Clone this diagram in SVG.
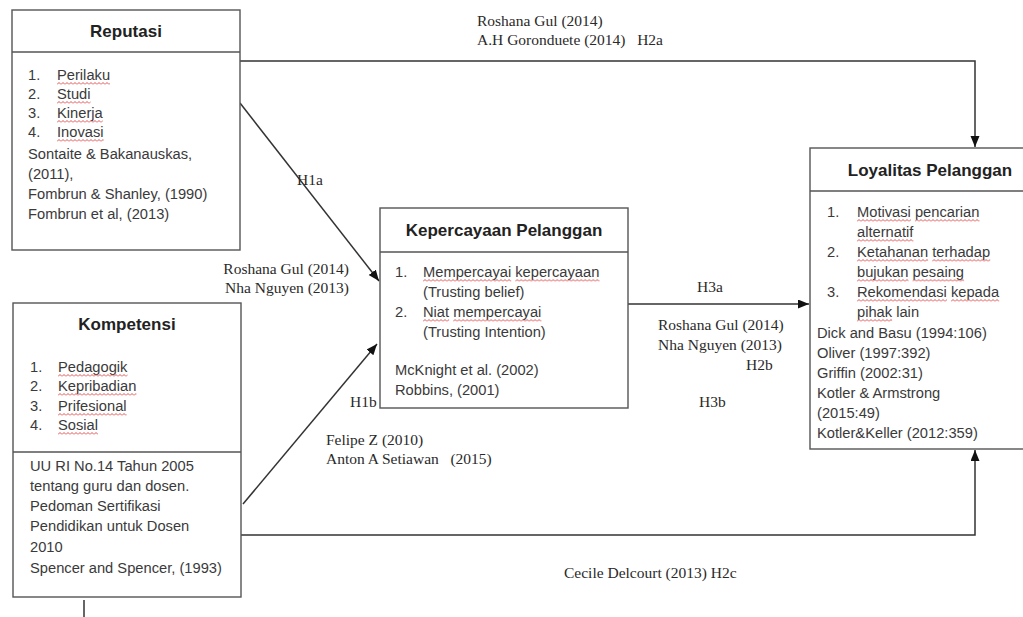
<svg xmlns="http://www.w3.org/2000/svg" width="1023" height="617" viewBox="0 0 1023 617">
  <defs>
    <style>
      .box { fill: #ffffff; stroke: #555555; stroke-width: 1.4; }
      .div { stroke: #555555; stroke-width: 1.4; }
      .title { font-family: "Liberation Sans", Arial, sans-serif; font-size: 17px; font-weight: bold; fill: #222222; text-anchor: middle; }
      .t { font-family: "Liberation Sans", Arial, sans-serif; font-size: 14.7px; fill: #3a3a3a; }
      .lbl { font-family: "Liberation Serif", "Times New Roman", serif; font-size: 15.5px; fill: #2a2a2a; }
      .conn { fill: none; stroke: #333333; stroke-width: 1.5; }
      .sq { fill: url(#squiggle); }
    </style>
    <marker id="arrow" markerUnits="userSpaceOnUse" markerWidth="12" markerHeight="10" refX="11" refY="4.5" orient="auto">
      <path d="M0,0 L11,4.5 L0,9 z" fill="#111111"/>
    </marker>
    <pattern id="squiggle" patternUnits="userSpaceOnUse" width="4" height="3">
      <path d="M0,2.5 L2,0.5 L4,2.5" fill="none" stroke="#e05050" stroke-width="1"/>
    </pattern>
  </defs>

  <rect width="1023" height="617" fill="#ffffff"/>

  <!-- connectors -->
  <g id="connectors">
    <polyline class="conn" points="240,61 975,61 975,147" marker-end="url(#arrow)"/>
    <line class="conn" x1="240" y1="103" x2="379" y2="281" marker-end="url(#arrow)"/>
    <line class="conn" x1="243" y1="504" x2="377" y2="344" marker-end="url(#arrow)"/>
    <line class="conn" x1="628" y1="304" x2="809" y2="304" marker-end="url(#arrow)"/>
    <polyline class="conn" points="232,535 975,535 975,450" marker-end="url(#arrow)"/>
    <line class="conn" x1="84" y1="600" x2="84" y2="617"/>
  </g>

  <!-- Reputasi -->
  <g id="reputasi">
    <rect class="box" x="12" y="10" width="228" height="240"/>
    <line class="div" x1="12" y1="52" x2="240" y2="52"/>
    <text class="title" x="126" y="37">Reputasi</text>
    <text class="t" x="28" y="80">1.</text><text class="t" x="57" y="80">Perilaku</text>
    <text class="t" x="28" y="99">2.</text><text class="t" x="57" y="99">Studi</text>
    <text class="t" x="28" y="118">3.</text><text class="t" x="57" y="118">Kinerja</text>
    <text class="t" x="28" y="137">4.</text><text class="t" x="57" y="137">Inovasi</text>
    <text class="t" x="28" y="159">Sontaite &amp; Bakanauskas,</text>
    <text class="t" x="28" y="179">(2011),</text>
    <text class="t" x="28" y="199">Fombrun &amp; Shanley, (1990)</text>
    <text class="t" x="28" y="219">Fombrun et al, (2013)</text>
    <rect class="sq" transform="translate(57,82)" width="53" height="3"/>
    <rect class="sq" transform="translate(57,101)" width="33.5" height="3"/>
    <rect class="sq" transform="translate(57,120)" width="45.7" height="3"/>
    <rect class="sq" transform="translate(57,139)" width="46.6" height="3"/>
  </g>

  <!-- Kompetensi -->
  <g id="kompetensi">
    <rect class="box" x="13" y="303" width="228" height="294"/>
    <line class="div" x1="13" y1="452" x2="241" y2="452"/>
    <text class="title" x="127" y="330">Kompetensi</text>
    <text class="t" x="30" y="372">1.</text><text class="t" x="58" y="372">Pedagogik</text>
    <text class="t" x="30" y="391">2.</text><text class="t" x="58" y="391">Kepribadian</text>
    <text class="t" x="30" y="411">3.</text><text class="t" x="58" y="411">Prifesional</text>
    <text class="t" x="30" y="430">4.</text><text class="t" x="58" y="430">Sosial</text>
    <text class="t" x="30" y="471">UU RI No.14 Tahun 2005</text>
    <text class="t" x="30" y="491">tentang guru dan dosen.</text>
    <text class="t" x="30" y="511">Pedoman Sertifikasi</text>
    <text class="t" x="30" y="531">Pendidikan untuk Dosen</text>
    <text class="t" x="30" y="552">2010</text>
    <text class="t" x="30" y="573">Spencer and Spencer, (1993)</text>
    <rect class="sq" transform="translate(58,374)" width="69.5" height="3"/>
    <rect class="sq" transform="translate(58,393)" width="78.4" height="3"/>
    <rect class="sq" transform="translate(58,413)" width="68.6" height="3"/>
    <rect class="sq" transform="translate(58,432)" width="40" height="3"/>
  </g>

  <!-- Kepercayaan Pelanggan -->
  <g id="kepercayaan">
    <rect class="box" x="380" y="208" width="248" height="200"/>
    <line class="div" x1="380" y1="252" x2="628" y2="252"/>
    <text class="title" x="504" y="236">Kepercayaan Pelanggan</text>
    <text class="t" x="395" y="277">1.</text><text class="t" x="423" y="277">Mempercayai kepercayaan</text>
    <text class="t" x="423" y="297">(Trusting belief)</text>
    <text class="t" x="395" y="317">2.</text><text class="t" x="423" y="317">Niat mempercayai</text>
    <text class="t" x="423" y="337">(Trusting Intention)</text>
    <text class="t" x="395" y="375">McKnight et al. (2002)</text>
    <text class="t" x="395" y="395">Robbins, (2001)</text>
    <rect class="sq" transform="translate(423,279)" width="88.2" height="3"/>
    <rect class="sq" transform="translate(515.3,279)" width="84.2" height="3"/>
    <rect class="sq" transform="translate(423,319)" width="26.1" height="3"/>
    <rect class="sq" transform="translate(453.2,319)" width="88.2" height="3"/>
  </g>

  <!-- Loyalitas Pelanggan -->
  <g id="loyalitas">
    <rect class="box" x="810" y="148" width="240" height="301"/>
    <line class="div" x1="810" y1="191" x2="1023" y2="191"/>
    <text class="title" x="930" y="176">Loyalitas Pelanggan</text>
    <text class="t" x="827" y="217">1.</text><text class="t" x="857" y="217">Motivasi pencarian</text>
    <text class="t" x="857" y="237">alternatif</text>
    <text class="t" x="827" y="257">2.</text><text class="t" x="857" y="257">Ketahanan terhadap</text>
    <text class="t" x="857" y="277">bujukan pesaing</text>
    <text class="t" x="827" y="297">3.</text><text class="t" x="857" y="297">Rekomendasi kepada</text>
    <text class="t" x="857" y="317">pihak lain</text>
    <text class="t" x="817" y="338">Dick and Basu (1994:106)</text>
    <text class="t" x="817" y="358">Oliver (1997:392)</text>
    <text class="t" x="817" y="378">Griffin (2002:31)</text>
    <text class="t" x="817" y="398">Kotler &amp; Armstrong</text>
    <text class="t" x="817" y="418">(2015:49)</text>
    <text class="t" x="817" y="438">Kotler&amp;Keller (2012:359)</text>
    <rect class="sq" transform="translate(857,219)" width="53.9" height="3"/>
    <rect class="sq" transform="translate(915,219)" width="64.5" height="3"/>
    <rect class="sq" transform="translate(857,239)" width="56.4" height="3"/>
    <rect class="sq" transform="translate(857,259)" width="71.1" height="3"/>
    <rect class="sq" transform="translate(932.2,259)" width="58" height="3"/>
    <rect class="sq" transform="translate(857,279)" width="51.5" height="3"/>
    <rect class="sq" transform="translate(912.6,279)" width="51.5" height="3"/>
    <rect class="sq" transform="translate(857,299)" width="89.9" height="3"/>
    <rect class="sq" transform="translate(951,299)" width="48.2" height="3"/>
    <rect class="sq" transform="translate(857,319)" width="35.1" height="3"/>
  </g>

  <!-- hypothesis and citation labels -->
  <g id="labels">
    <text class="lbl" x="477" y="26">Roshana Gul (2014)</text>
    <text class="lbl" x="477" y="45" xml:space="preserve">A.H Goronduete (2014)   H2a</text>
    <text class="lbl" x="297" y="185">H1a</text>
    <text class="lbl" x="349" y="274" text-anchor="end">Roshana Gul (2014)</text>
    <text class="lbl" x="349" y="293" text-anchor="end">Nha Nguyen (2013)</text>
    <text class="lbl" x="697" y="292">H3a</text>
    <text class="lbl" x="658" y="330">Roshana Gul (2014)</text>
    <text class="lbl" x="658" y="350">Nha Nguyen (2013)</text>
    <text class="lbl" x="746" y="370">H2b</text>
    <text class="lbl" x="699" y="407">H3b</text>
    <text class="lbl" x="350" y="407">H1b</text>
    <text class="lbl" x="326" y="445">Felipe Z (2010)</text>
    <text class="lbl" x="326" y="464" xml:space="preserve">Anton A Setiawan   (2015)</text>
    <text class="lbl" x="564" y="578">Cecile Delcourt (2013) H2c</text>
  </g>
</svg>
